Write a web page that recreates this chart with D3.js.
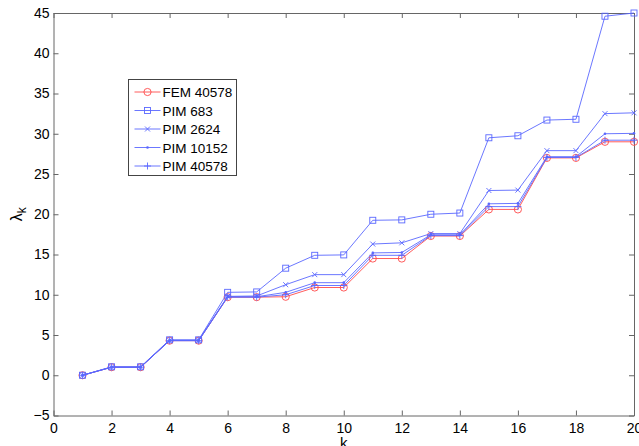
<html>
<head>
<meta charset="utf-8">
<script src="https://d3js.org/d3.v7.min.js"></script>
<style>
  body { margin: 0; background: #fff; }
  text { font-family: "Liberation Sans", Arial, sans-serif; }
</style>
</head>
<body>
<div id="my_dataviz"></div>
<script>
// data
const ks = d3.range(1, 21);
const fem40578 = [0, 1.0, 1.0, 4.3, 4.3, 9.7, 9.7, 9.75, 10.9, 10.9, 14.5, 14.5, 17.3, 17.3, 20.6, 20.6, 27.0, 27.0, 29.0, 29.0];
const pim683   = [0, 1.05, 1.05, 4.4, 4.4, 10.3, 10.35, 13.3, 14.9, 14.95, 19.25, 19.3, 20.0, 20.15, 29.5, 29.75, 31.7, 31.8, 44.6, 45.0];
const pim2624  = [0, 1.0, 1.0, 4.35, 4.35, 9.8, 9.85, 11.25, 12.5, 12.5, 16.3, 16.45, 17.6, 17.6, 22.95, 23.0, 27.9, 27.9, 32.5, 32.6];
const pim10152 = [0, 1.0, 1.0, 4.3, 4.3, 9.75, 9.75, 10.3, 11.5, 11.5, 15.2, 15.25, 17.45, 17.45, 21.3, 21.35, 27.15, 27.15, 30.0, 30.05];
const pim40578 = [0, 1.0, 1.0, 4.3, 4.3, 9.7, 9.7, 10.0, 11.15, 11.15, 14.9, 14.9, 17.35, 17.35, 20.95, 20.95, 27.05, 27.05, 29.2, 29.2];
const seriesNames = ["FEM 40578", "PIM 683", "PIM 2624", "PIM 10152", "PIM 40578"];
const xTicks = d3.range(0, 21, 2);
const yTicks = d3.range(-5, 46, 5);

const series = [
  {name: seriesNames[0], values: fem40578, color: "#ff4a4a", marker: "circle"},
  {name: seriesNames[1], values: pim683,   color: "#5a68ff", marker: "square"},
  {name: seriesNames[2], values: pim2624,  color: "#5a68ff", marker: "x"},
  {name: seriesNames[3], values: pim10152, color: "#5a68ff", marker: "dot"},
  {name: seriesNames[4], values: pim40578, color: "#5a68ff", marker: "plus"}
];

const W = 639, H = 446;
const margin = {top: 13, right: 5, bottom: 30.5, left: 53.5};
const width = W - margin.left - margin.right,
      height = H - margin.top - margin.bottom;

const svg = d3.select("#my_dataviz")
  .append("svg")
    .attr("width", W)
    .attr("height", H)
  .append("g")
    .attr("transform", `translate(${margin.left}, ${margin.top})`);

const x = d3.scaleLinear().domain([0, 20]).range([0, width]);
const y = d3.scaleLinear().domain([-5, 45]).range([height, 0]);

// axes, ticks pointing inward, on all four sides
const axisColor = "#666";
svg.append("g")
  .attr("transform", `translate(0, ${height})`)
  .call(d3.axisBottom(x).tickValues(xTicks).tickSizeInner(-5).tickSizeOuter(0).tickPadding(8))
  .call(g => g.selectAll("text").style("font-size", "14px").attr("fill", "#000"));
svg.append("g")
  .call(d3.axisLeft(y).tickValues(yTicks).tickSizeInner(-5).tickSizeOuter(0).tickPadding(4))
  .call(g => g.selectAll("text").style("font-size", "14px").attr("fill", "#000"));
svg.append("g")
  .call(d3.axisTop(x).tickValues(xTicks).tickSizeInner(-5).tickSizeOuter(0).tickFormat(""));
svg.append("g")
  .attr("transform", `translate(${width}, 0)`)
  .call(d3.axisRight(y).tickValues(yTicks).tickSizeInner(-5).tickSizeOuter(0).tickFormat(""));
svg.selectAll(".domain, .tick line").attr("stroke", axisColor);

// axis labels
svg.append("text")
  .attr("x", x(10))
  .attr("y", height + 32)
  .attr("text-anchor", "middle")
  .style("font-size", "15px")
  .text("k");
const ylab = svg.append("text")
  .attr("transform", `translate(${-32}, ${y(20)}) rotate(-90)`)
  .attr("text-anchor", "middle")
  .style("font-size", "16px");
ylab.append("tspan").text("λ");
ylab.append("tspan").attr("dy", 4).style("font-size", "12px").text("k");

function drawMarker(g, type, color) {
  if (type === "circle") {
    g.append("circle").attr("r", 3.6).attr("fill", "none").attr("stroke", color).attr("stroke-width", 0.9);
  } else if (type === "square") {
    g.append("rect").attr("x", -3).attr("y", -3).attr("width", 6).attr("height", 6)
      .attr("fill", "none").attr("stroke", color).attr("stroke-width", 0.9);
  } else if (type === "x") {
    g.append("path").attr("d", "M-2.5,-2.5L2.5,2.5M-2.5,2.5L2.5,-2.5").attr("stroke", color).attr("stroke-width", 0.9);
  } else if (type === "dot") {
    g.append("circle").attr("r", 1.3).attr("fill", color);
  } else if (type === "plus") {
    g.append("path").attr("d", "M-3.5,0L3.5,0M0,-3.5L0,3.5").attr("stroke", color).attr("stroke-width", 0.9);
  }
}

const line = d3.line().x((d, i) => x(ks[i])).y(d => y(d));

series.forEach(s => {
  const g = svg.append("g");
  g.append("path")
    .datum(s.values)
    .attr("fill", "none")
    .attr("stroke", s.color)
    .attr("stroke-width", 0.9)
    .attr("d", line);
  s.values.forEach((v, i) => {
    const m = g.append("g").attr("transform", `translate(${x(ks[i])}, ${y(v)})`);
    drawMarker(m, s.marker, s.color);
  });
});

// legend
const legend = svg.append("g")
  .attr("transform", `translate(${128.5 - margin.left}, ${79.5 - margin.top})`);
legend.append("rect")
  .attr("width", 108).attr("height", 96)
  .attr("fill", "#fff").attr("stroke", "#444").attr("stroke-width", 1);
series.forEach((s, i) => {
  const row = legend.append("g").attr("transform", `translate(0, ${12.5 + i * 18.5})`);
  row.append("line").attr("x1", 6).attr("x2", 32).attr("y1", 0).attr("y2", 0)
    .attr("stroke", s.color).attr("stroke-width", 0.9);
  drawMarker(row.append("g").attr("transform", "translate(19, 0)"), s.marker, s.color);
  row.append("text").attr("x", 34).attr("y", 5)
    .style("font-size", "13.5px").text(s.name);
});
</script>
</body>
</html>
